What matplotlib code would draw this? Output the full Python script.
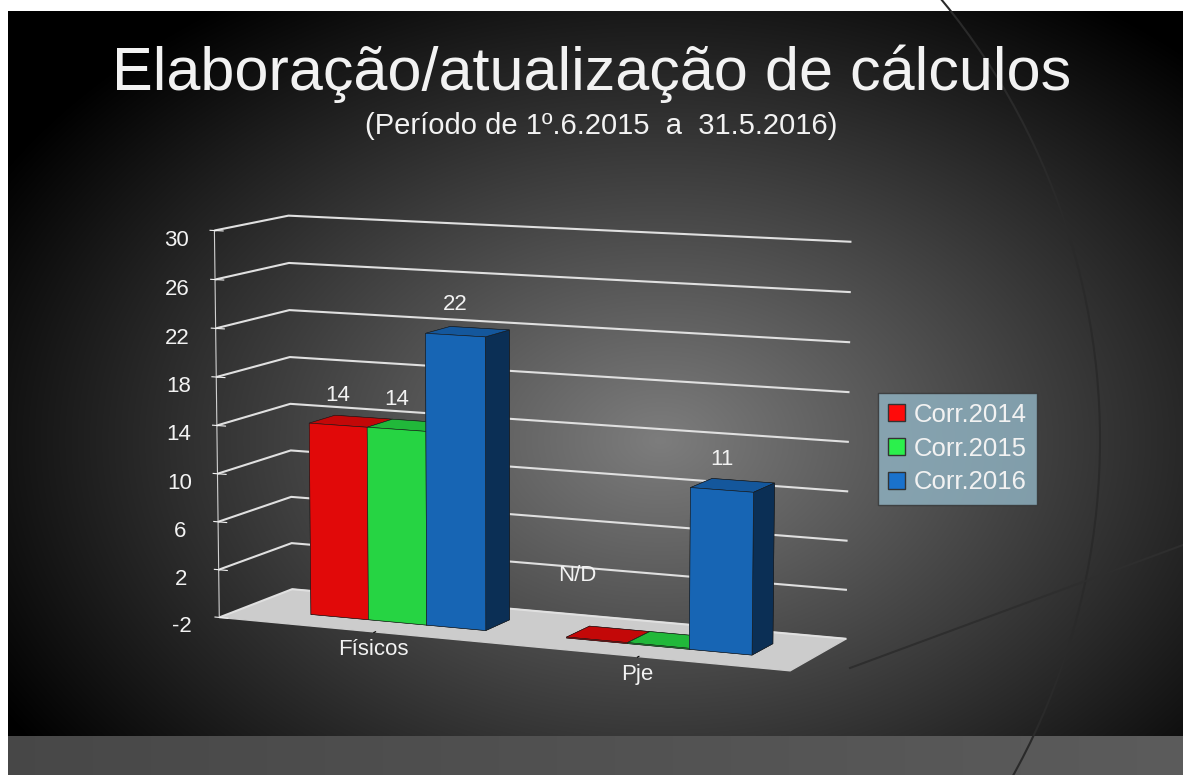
import numpy as np
import matplotlib
matplotlib.use("Agg")
import matplotlib.pyplot as plt
from matplotlib.patches import Patch, Circle

plt.rcParams['font.family'] = ['Liberation Sans', 'DejaVu Sans']

# dados
categorias = ["Físicos", "Pje"]
series = ["Corr.2014", "Corr.2015", "Corr.2016"]
corr2014 = [14, None]   # None = N/D
corr2015 = [14, None]
corr2016 = [22, 11]
cores = ["#ff0a0a", "#2bf04c", "#1a72cc"]
rotulos_z = list(range(-2, 31, 4))

W, H = 1183, 775
fig = plt.figure(figsize=(W / 100, H / 100), dpi=100)

# fundo com gradiente radial (modelo de slide)
bg = fig.add_axes([0, 0, 1, 1])
yy, xx = np.mgrid[0:H, 0:W]
r = np.sqrt(((xx - 660) / 720.0) ** 2 + ((yy - 440) / 500.0) ** 2)
g = np.clip(0.49 - 0.46 * r, 0.0, 1.0)
g[yy > 735] = 0.28 + 0.08 * (xx[yy > 735] / W)
img = np.dstack([g, g, g])
img[:11, :, :] = 1.0
img[:, :8, :] = 1.0
bg.imshow(img, extent=[0, W, H, 0], aspect='auto')
bg.set_xlim(0, W)
bg.set_ylim(H, 0)
bg.axis('off')
bg.add_patch(Circle((409, 440), 691, fill=False, ec='#2a2a2a', lw=1.5))
bg.plot([850, W], [668, 545], color='#2e2e2e', lw=1.5)

fig.text(0.5, 0.905, "Elaboração/atualização de cálculos", ha='center', va='center',
         fontsize=44, color='#f2f2f2')
fig.text(0.508, 0.838, "(Período de 1º.6.2015  a  31.5.2016)", ha='center', va='center',
         fontsize=21, color='#f2f2f2')

ax = fig.add_axes([0.08, 0.04, 0.72, 0.78], projection='3d')
ax.set_facecolor((0, 0, 0, 0))
ax.set_proj_type('persp', focal_length=1.2)
ax.view_init(elev=9, azim=-66)
ax.set_box_aspect((2.5, 0.65, 1.6), zoom=1.21)

larg = 0.23
prof0, prof = 0.32, 0.36
xs, ys, zs, dxs, dys, dzs, cs = [], [], [], [], [], [], []
vals_series = [corr2014, corr2015, corr2016]
for i, vals in enumerate(vals_series):
    for j, v in enumerate(vals):
        x0 = j + (i - 1.5) * larg
        xs.append(x0)
        ys.append(prof0)
        zs.append(-2)
        dxs.append(larg)
        dys.append(prof)
        dzs.append((v + 2) if v is not None else 0.08)
        cs.append(cores[i])
        if v is not None:
            ax.text(x0 + larg / 2, prof0, v + 1.6, str(v), ha='center', va='bottom',
                    color='#f2f2f2', fontsize=16)
ax.bar3d(xs, ys, zs, dxs, dys, dzs, color=cs, shade=True, edgecolor='#1a1a1a', linewidth=0.4)
ax.text(1 - 1.5 * larg + 0.04, prof0, 2.3, "N/D", ha='center', va='bottom',
        color='#f2f2f2', fontsize=16)

ax.set_xlim(-0.62, 1.55)
ax.set_ylim(0, 1)
ax.set_zlim(-2, 30)
ax.set_xticks([0, 1])
ax.set_xticklabels(categorias, fontsize=16, color='#f2f2f2')
ax.set_yticks([])
ax.set_zticks(rotulos_z)
ax.set_zticklabels([str(v) for v in rotulos_z], fontsize=16, color='#f2f2f2')

ax.xaxis.set_pane_color((1, 1, 1, 0))
ax.yaxis.set_pane_color((1, 1, 1, 0))
ax.zaxis.set_pane_color((0.8, 0.8, 0.8, 1))
for a in (ax.xaxis, ax.yaxis):
    a._axinfo['grid']['color'] = (1, 1, 1, 0)
    a.line.set_color((0, 0, 0, 0))
ax.zaxis._axinfo['grid']['color'] = (0.88, 0.88, 0.88, 1)
ax.zaxis._axinfo['grid']['linewidth'] = 1.5
ax.zaxis._axinfo['juggled'] = (1, 2, 0)
ax.zaxis.line.set_color('#d0d0d0')
ax.tick_params(axis='x', length=0, pad=-4)
ax.tick_params(axis='z', colors='#f2f2f2', pad=6)

handles = [Patch(facecolor=c, edgecolor='#333333', label=s) for c, s in zip(cores, series)]
leg = fig.legend(handles=handles, loc='upper left', bbox_to_anchor=(0.731, 0.51),
                 fontsize=18.5, frameon=True, fancybox=False, handlelength=0.65,
                 handleheight=0.65, handletextpad=0.35, labelspacing=0.38, borderpad=0.4)
leg.get_frame().set_facecolor('#92b6c6')
leg.get_frame().set_edgecolor('#333333')
for t in leg.get_texts():
    t.set_color('#f2f2f2')

fig.savefig("out.png", dpi=100)
